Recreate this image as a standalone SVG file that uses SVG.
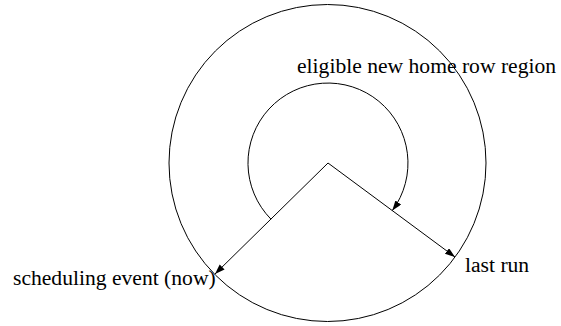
<svg xmlns="http://www.w3.org/2000/svg" width="561" height="326" viewBox="0 0 561 326">
<style>
.ln{fill:none;stroke:#000;stroke-width:1}
text{font-family:'Liberation Serif','Times New Roman','DejaVu Serif',serif;font-size:21.6px;fill:#000}
</style>
<defs>
<marker id="ah" markerUnits="userSpaceOnUse" markerWidth="11" markerHeight="8" refX="10" refY="3.5" orient="auto">
<path d="M0,0 L10,3.5 L0,7 z" fill="#000"/>
</marker>
</defs>
<rect width="561" height="326" fill="#fff"/>
<g id="outer-circle"><circle class="ln" cx="327.5" cy="163" r="158.5"/></g>
<g id="connectors">
<path class="ln" d="M328,163 L215,274" marker-end="url(#ah)"/>
<path class="ln" d="M328,163 L455,257" marker-end="url(#ah)"/>
<path class="ln" d="M270.9,219.1 A80,80 0 1 1 392.3,210.6" marker-end="url(#ah)"/>
</g>
<g id="label-region"><text x="297" y="73" font-family="Liberation Serif, serif">eligible new home row region</text></g>
<g id="label-now"><text x="13" y="285" font-family="Liberation Serif, serif">scheduling event (now)</text></g>
<g id="label-last"><text x="465" y="272" font-family="Liberation Serif, serif">last run</text></g>
</svg>
